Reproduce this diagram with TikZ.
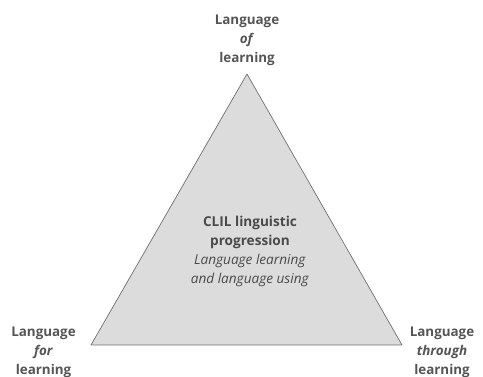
\documentclass[tikz,border=0pt]{standalone}
\usepackage{fontspec}
\setmainfont{Open Sans}
\definecolor{txt}{HTML}{4A4A4A}
\definecolor{lbltxt}{HTML}{555555}
\definecolor{tri}{HTML}{DCDCDC}
\definecolor{edge}{HTML}{707070}
\begin{document}
\begin{tikzpicture}[x=1pt,y=-1pt,
  lbl/.style={align=center,text=lbltxt,font=\fontsize{13.4}{19}\selectfont\bfseries,inner sep=0pt},
  ctr/.style={align=center,text=txt,font=\fontsize{13.6}{19}\selectfont,inner sep=0pt}]
\useasboundingbox (0,0) rectangle (483,377);
\coordinate (A) at (247,74);
\coordinate (L) at (91,345);
\coordinate (R) at (402,345);
\filldraw[fill=tri,draw=edge,line width=0.7pt,line join=round] (A) -- (L) -- (R) -- cycle;
\node[lbl] (top) at (247,40) {Language\\\textit{of}\\learning};
\node[lbl] (bl) at (43.5,352) {Language\\\textit{for}\\learning};
\node[lbl] (br) at (442,352) {Language\\\textit{through}\\learning};
\node[ctr] (c) at (250,251) {\textbf{CLIL linguistic}\\\textbf{progression}\\\textit{Language learning}\\\textit{and language using}};
\end{tikzpicture}
\end{document}
